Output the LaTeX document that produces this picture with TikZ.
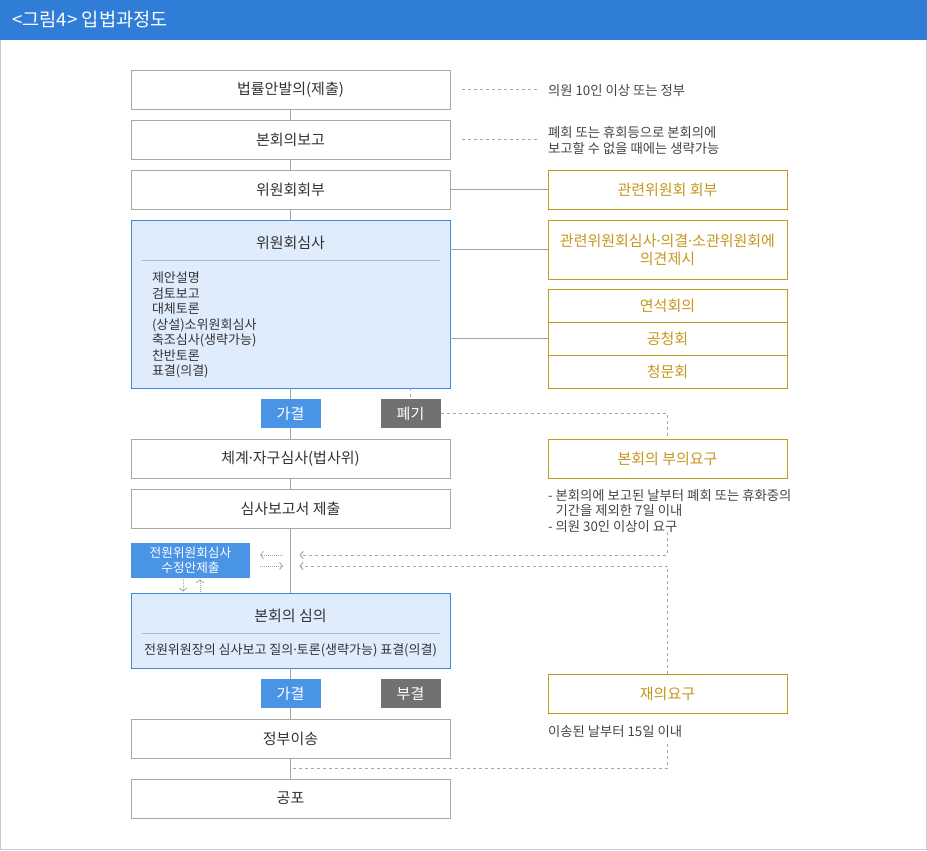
\documentclass[tikz,border=0pt]{standalone}
\usepackage{fontspec}
\setmainfont{Noto Sans CJK KR}
\newfontfamily\dotfont{Noto Sans}
\usepackage{tikz}
\usepackage{xcolor}
\usetikzlibrary{arrows.meta,positioning,calc}
\newcommand{\mdot}{{\dotfont ·}}
\definecolor{titlebar}{HTML}{2F7DD6}
\definecolor{framegray}{HTML}{C3CCD9}
\definecolor{boxgray}{HTML}{A9A9A9}
\definecolor{linegray}{HTML}{A3A3A3}
\definecolor{dashgray}{HTML}{A6A6A6}
\definecolor{textdark}{HTML}{333333}
\definecolor{notegray}{HTML}{444444}
\definecolor{bluefill}{HTML}{DFECFC}
\definecolor{blueline}{HTML}{3C8AE0}
\definecolor{sepblue}{HTML}{A2BCDC}
\definecolor{badgeblue}{HTML}{4A94E6}
\definecolor{badgegray}{HTML}{717171}
\definecolor{gold}{HTML}{C49A1C}
\definecolor{goldtext}{HTML}{C4961C}

\begin{document}
\begin{tikzpicture}[
    x=0.75pt, y=-0.75pt,
    font=\fontsize{11.25pt}{14pt}\selectfont,
    box/.style={draw=boxgray, line width=0.75pt, minimum width=239.25pt, minimum height=29.25pt, inner sep=0pt, outer sep=0pt, text=textdark},
    bluebox/.style={draw=blueline, fill=bluefill, line width=0.75pt, minimum width=239.25pt, inner sep=0pt, outer sep=0pt},
    goldbox/.style={draw=gold, line width=0.75pt, minimum width=179.25pt, minimum height=29.25pt, inner sep=0pt, outer sep=0pt, text=goldtext, align=center, font=\fontsize{11.25pt}{13.5pt}\selectfont},
    badge/.style={minimum width=45pt, minimum height=21.75pt, inner sep=0pt, outer sep=0pt, text=white},
    minibox/.style={fill=badgeblue, minimum width=89.25pt, minimum height=26.25pt, inner sep=0pt, outer sep=0pt, text=white, align=center, font=\fontsize{9.5pt}{11.25pt}\selectfont},
    note/.style={inner sep=0pt, outer sep=0pt, align=left, text=notegray, font=\fontsize{10pt}{12pt}\selectfont},
    link/.style={draw=linegray, line width=0.75pt},
    dashlink/.style={draw=dashgray, line width=0.75pt, dash pattern=on 2.25pt off 2.25pt},
    dotlink/.style={draw=dashgray, line width=0.6pt, dash pattern=on 0.75pt off 0.75pt},
    chev/.style={-{Straight Barb[length=2.25pt,width=5.5pt]}}
  ]
    \useasboundingbox (0,0) rectangle (927,850);
    \fill[titlebar] (0,0) rectangle (927,40);
    \draw[framegray, line width=0.75pt] (0.5,40) -- (0.5,849.5) -- (926.5,849.5) -- (926.5,40);
    \node[anchor=west, inner sep=0pt, text=white, font=\fontsize{14pt}{16pt}\selectfont] (title) at (12,20) {<그림4> 입법과정도};

    % main column
    \node[box] (bill) at (290.5,89.5) {법률안발의(제출)};
    \node[box, below=8.25pt of bill] (report) {본회의보고};
    \node[box, below=8.25pt of report] (refer) {위원회회부};
    \node[bluebox, minimum height=126pt, below=8.25pt of refer] (review) {};
    \node[box, below=38.25pt of review] (legal) {체계\mdot 자구심사(법사위)};
    \node[box, below=8.25pt of legal] (submit) {심사보고서 제출};
    \node[bluebox, minimum height=56.25pt, below=48.75pt of submit] (plenary) {};
    \node[box, below=38.25pt of plenary] (transfer) {정부이송};
    \node[box, below=15.75pt of transfer] (promul) {공포};

    \node[text=textdark] (reviewtitle) at ($(review.north)+(0,23)$) {위원회심사};
    \draw[sepblue, line width=0.75pt] ($(review.north west)+(11,40)$) -- ($(review.north east)+(-10,40)$);
    \node[note, text=textdark, anchor=north west, font=\fontsize{9.75pt}{11.6pt}\selectfont] (reviewlist) at ($(review.north west)+(21,52)$)
      {제안설명\\검토보고\\대체토론\\(상설)소위원회심사\\축조심사(생략가능)\\찬반토론\\표결(의결)};

    \node[text=textdark] (plentitle) at ($(plenary.north)+(0,23)$) {본회의 심의};
    \draw[sepblue, line width=0.75pt] ($(plenary.north west)+(11,40)$) -- ($(plenary.north east)+(-10,40)$);
    \node[text=textdark, font=\fontsize{9.75pt}{11pt}\selectfont] (plensub) at ($(plenary.north)+(0,57.5)$)
      {전원위원장의 심사보고 질의\mdot 토론(생략가능) 표결(의결)};

    \node[minibox] (whole) at (190.5,560.5) {전원위원회심사\\수정안제출};

    % right column
    \node[note, anchor=west] (note1) at (548,91) {의원 10인 이상 또는 정부};
    \node[note, anchor=west] (note2) at (548,140) {폐회 또는 휴회등으로 본회의에\\보고할 수 없을 때에는 생략가능};
    \node[goldbox, right=73.5pt of refer] (rel1) {관련위원회 회부};
    \node[goldbox, minimum height=44.25pt, below=8.25pt of rel1] (rel2) {관련위원회심사\mdot 의결\mdot 소관위원회에\\의견제시};
    \node[goldbox, minimum height=24.75pt, below=7.5pt of rel2] (joint) {연석회의};
    \node[goldbox, minimum height=24.75pt, below=0pt of joint] (hearing) {공청회};
    \node[goldbox, minimum height=24.75pt, below=0pt of hearing] (inquiry) {청문회};
    \node[goldbox, right=73.5pt of legal] (request) {본회의 부의요구};
    \node[note, anchor=north west, font=\fontsize{10pt}{11.6pt}\selectfont] (reqnote) at (548,489)
      {- 본회의에 보고된 날부터 폐회 또는 휴화중의\\\hphantom{-\ }기간을 제외한 7일 이내\\- 의원 30인 이상이 요구};
    \node[goldbox] (recon) at (667.5,693.5) {재의요구};
    \node[note, anchor=north west] (reconnote) at (548,725) {이송된 날부터 15일 이내};

    % connectors
    \draw[link] (bill) -- (report);
    \draw[link] (report) -- (refer);
    \draw[link] (refer) -- (review);
    \draw[link] (review) -- (legal);
    \draw[link] (legal) -- (submit);
    \draw[link] (submit) -- (plenary);
    \draw[link] (plenary) -- (transfer);
    \draw[link] (transfer) -- (promul);

    \draw[link] (refer) -- (rel1);
    \draw[link] (rel2.west -| review.east) -- (rel2.west);
    \draw[link] (hearing.west -| review.east) -- (hearing.west);

    \draw[dashlink, shorten <=9pt, shorten >=8.25pt] (bill.east) -- (bill.east -| note1.west);
    \draw[dashlink, shorten <=9pt, shorten >=8.25pt] (report.east) -- (report.east -| note2.west);

    % badges
    \node[badge, fill=badgeblue] (pass1) at ($(review.south)!0.5!(legal.north)$) {가결};
    \node[badge, fill=badgegray, right=45pt of pass1] (discard) {폐기};
    \node[badge, fill=badgeblue] (pass2) at ($(plenary.south)!0.5!(transfer.north)$) {가결};
    \node[badge, fill=badgegray, right=45pt of pass2] (reject) {부결};

    \draw[dashlink] (review.south -| discard) -- (discard);
    \draw[dashlink] (discard) -| (request);

    \coordinate (ret1) at ($(whole.east -| submit.south)+(9,-5.5)$);
    \coordinate (ret2) at ($(whole.east -| submit.south)+(9,5.5)$);
    \coordinate (vetoend) at ($(transfer.south)!0.5!(promul.north)$);
    \draw[dashlink, chev] (reqnote.south -| request) |- (ret1);
    \draw[dashlink, chev] (recon.north) |- (ret2);
    \draw[dashlink, shorten <=5pt] (reconnote.south -| recon) |- (vetoend);

    % small arrows beside the plenary committee box
    \draw[dotlink, chev] ([xshift=24.75pt, yshift=4.1pt]whole.east) -- ([xshift=7.5pt, yshift=4.1pt]whole.east);
    \draw[dotlink, chev] ([xshift=7.5pt, yshift=-4.1pt]whole.east) -- ([xshift=24.75pt, yshift=-4.1pt]whole.east);
    \draw[dotlink, chev, shorten <=1pt, shorten >=1pt] ($(whole.south)+(-7.5,0)$) -- ($(whole.south |- plenary.north)+(-7.5,0)$);
    \draw[dotlink, chev, shorten <=1pt, shorten >=1pt] ($(whole.south |- plenary.north)+(9.5,0)$) -- ($(whole.south)+(9.5,0)$);
  \end{tikzpicture}
\end{document}
